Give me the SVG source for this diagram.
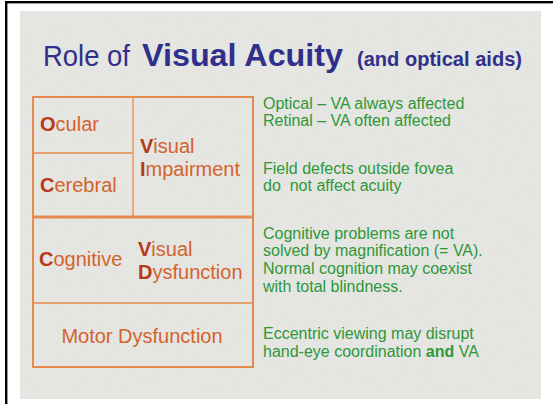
<svg xmlns="http://www.w3.org/2000/svg" width="553" height="404" viewBox="0 0 553 404">
<defs>
<style>
.t{font-family:"Liberation Sans",Arial,sans-serif;fill:#30308c}
.o{font-family:"Liberation Sans",Arial,sans-serif;font-size:20px;fill:#d4632c}
.ob{font-weight:bold;fill:#b8381a}
.g{font-family:"Liberation Sans",Arial,sans-serif;font-size:16px;fill:#2e9838}
.ln{stroke:#e68b4e;fill:none}
</style>
<filter id="noise" x="0" y="0" width="100%" height="100%">
<feTurbulence type="fractalNoise" baseFrequency="0.9" numOctaves="2" seed="3" result="n"/>
<feColorMatrix in="n" type="matrix" values="0 0 0 0 0.5  0 0 0 0 0.5  0 0 0 0 0.5  0 0 0 0.12 0" result="nm"/>
<feComposite in="nm" in2="SourceGraphic" operator="in" result="nc"/>
<feMerge><feMergeNode in="SourceGraphic"/><feMergeNode in="nc"/></feMerge>
</filter>
</defs>
<rect x="0" y="0" width="553" height="404" fill="#ffffff"/>
<rect x="5" y="1" width="548" height="2.4" fill="#000"/>
<rect x="5" y="1" width="2.4" height="403" fill="#000"/>
<rect x="20" y="11" width="521" height="388" fill="#e7e7e4" filter="url(#noise)"/>

<g id="title">
<text class="t" x="43" y="66" font-size="30" textLength="87" lengthAdjust="spacingAndGlyphs">Role of</text>
<text class="t" x="142" y="66" font-size="31" font-weight="bold" textLength="201" lengthAdjust="spacingAndGlyphs">Visual Acuity</text>
<text class="t" x="357" y="66" font-size="20" font-weight="bold" textLength="165" lengthAdjust="spacingAndGlyphs">(and optical aids)</text>
</g>

<g id="connectors">
<rect class="ln" x="33" y="97" width="220" height="270" stroke-width="2"/>
<line class="ln" x1="133" y1="97" x2="133" y2="217" stroke-width="1.3"/>
<line class="ln" x1="33" y1="153" x2="133" y2="153" stroke-width="1.3"/>
<line class="ln" x1="33" y1="217" x2="253" y2="217" stroke-width="3"/>
<line class="ln" x1="33" y1="303" x2="253" y2="303" stroke-width="1.5"/>
</g>

<g id="ocular"><text class="o" x="40" y="131"><tspan class="ob">O</tspan>cular</text></g>
<g id="cerebral"><text class="o" x="40" y="192"><tspan class="ob">C</tspan>erebral</text></g>
<g id="visual-impairment">
<text class="o" x="140" y="153"><tspan class="ob">V</tspan>isual</text>
<text class="o" x="140" y="176"><tspan class="ob">I</tspan>mpairment</text>
</g>
<g id="cognitive"><text class="o" x="39" y="266"><tspan class="ob">C</tspan>ognitive</text></g>
<g id="visual-dysfunction">
<text class="o" x="138" y="256"><tspan class="ob">V</tspan>isual</text>
<text class="o" x="138" y="279"><tspan class="ob">D</tspan>ysfunction</text>
</g>
<g id="motor"><text class="o" x="142" y="343" text-anchor="middle">Motor Dysfunction</text></g>

<g id="notes">
<text class="g" x="263" y="108.5">Optical – VA always affected</text>
<text class="g" x="263" y="126.2">Retinal – VA often affected</text>
<text class="g" x="263" y="173.5">Field defects outside fovea</text>
<text class="g" x="263" y="191.2" xml:space="preserve">do  not affect acuity</text>
<text class="g" x="263" y="238.5">Cognitive problems are not</text>
<text class="g" x="263" y="256.2">solved by magnification (= VA).</text>
<text class="g" x="263" y="273.9">Normal cognition may coexist</text>
<text class="g" x="263" y="291.6">with total blindness.</text>
<text class="g" x="263" y="339">Eccentric viewing may disrupt</text>
<text class="g" x="263" y="356.7">hand-eye coordination <tspan font-weight="bold">and</tspan> VA</text>
</g>
</svg>
